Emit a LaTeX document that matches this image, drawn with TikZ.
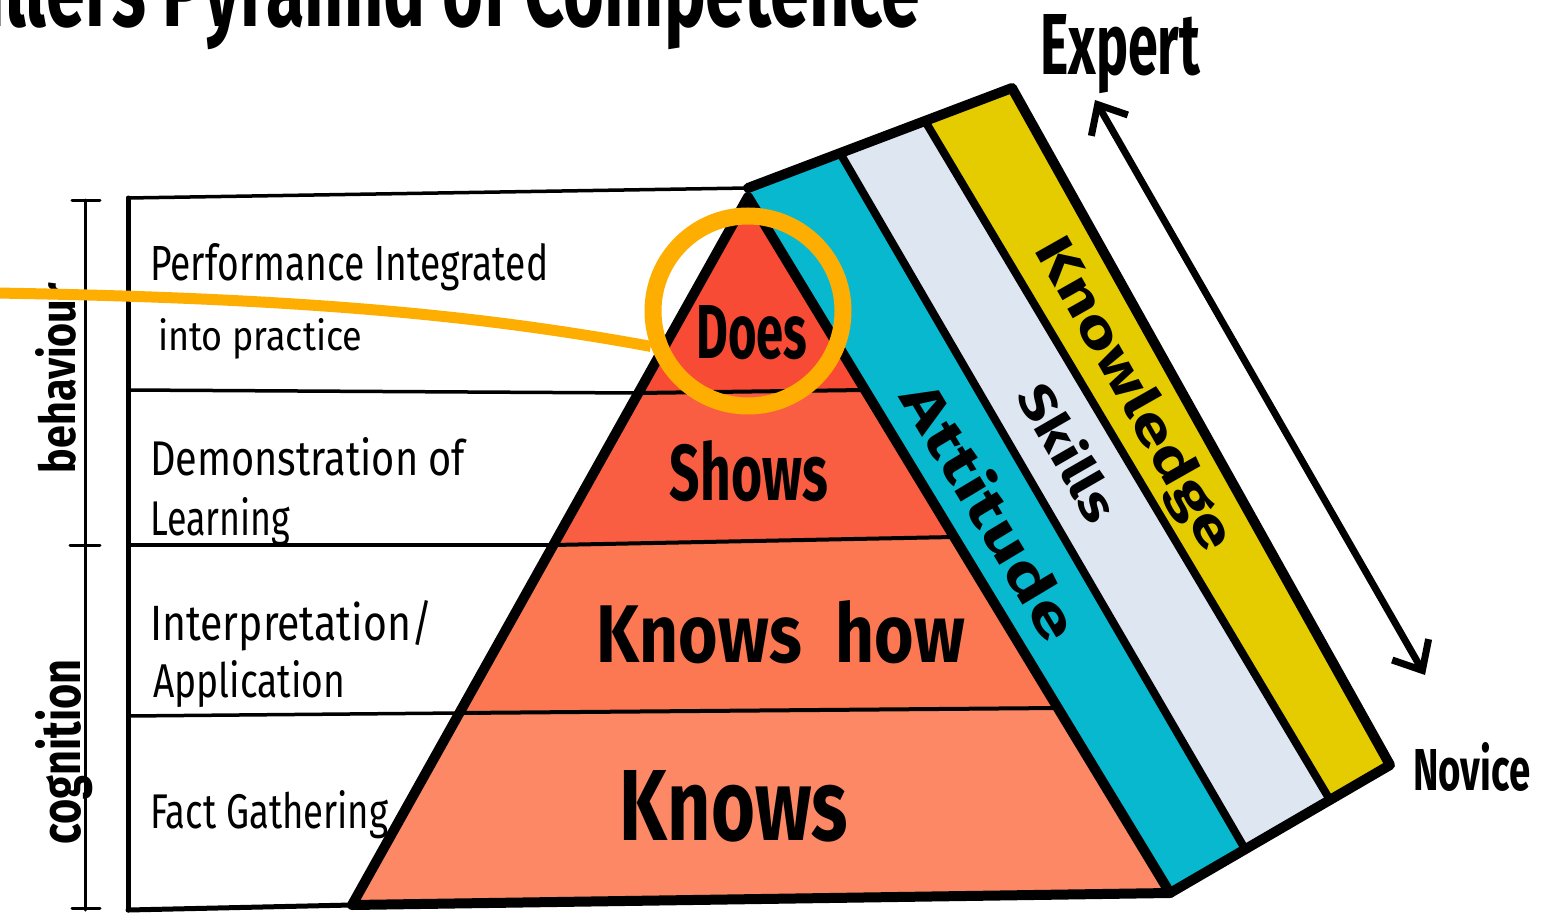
\documentclass[tikz,border=0pt]{standalone}
\usepackage{graphicx}
\usepackage{fontspec}
\setmainfont{Fira Sans}
\usetikzlibrary{arrows.meta}
\definecolor{doesc}{HTML}{F84B35}
\definecolor{showsc}{HTML}{FA5E42}
\definecolor{knowshowc}{HTML}{FB7852}
\definecolor{knowsc}{HTML}{FC8866}
\definecolor{cyanc}{HTML}{07B8CF}
\definecolor{skillc}{HTML}{DEE6F2}
\definecolor{yellowc}{HTML}{E4CC00}
\definecolor{ringc}{HTML}{FDAE00}
\newcommand{\fitbox}[3]{\resizebox{#1pt}{#2pt}{#3}}
\begin{document}
\begin{tikzpicture}[x=1pt,y=-1pt,line join=round,line cap=round,
  thinrule/.style={line width=3.5pt},
  boldrule/.style={line width=10pt},
  rowlbl/.style={inner sep=0pt,anchor=base west},
  pyrlbl/.style={inner sep=0pt,anchor=base,font=\bfseries},
  sidelbl/.style={inner sep=0pt,anchor=base,rotate=90},
  stripelbl/.style={inner sep=0pt,anchor=center,font=\bfseries}]
\useasboundingbox (0,0) rectangle (1564,915);
\fill[white] (0,0) rectangle (1564,915);

% title (cut off at the top)
\begin{scope}
\clip (0,0) rectangle (1564,915);
\node[inner sep=0pt,anchor=base west] (title) at (-70,27) {\fitbox{990}{85}{\bfseries Millers Pyramid of Competence}};
\end{scope}

% coordinates
\coordinate (apex) at (748,197);
\coordinate (dL) at (638,393); \coordinate (dR) at (865,390);
\coordinate (sL) at (553,545); \coordinate (sR) at (954,537);
\coordinate (kL) at (460,713); \coordinate (kR) at (1058,708);
\coordinate (bL) at (352,905); \coordinate (bR) at (1170,893);
\coordinate (eTL) at (748,188); \coordinate (c1T) at (840,153);
\coordinate (c2T) at (925,121); \coordinate (eTR) at (1012,88);
\coordinate (eBR) at (1390,765); \coordinate (c2B) at (1330,800);
\coordinate (c1B) at (1245,849);

% left table
\draw[line width=5pt] (128,198) -- (128,910);
\draw[thinrule] (128,198) -- (eTL);
\draw[thinrule] (128,390) -- (dL);
\draw[thinrule] (128,545) -- (sL);
\draw[thinrule] (128,716) -- (kL);
\draw[line width=5pt] (128,910) -- (bL);

% bracket
\draw[line width=3pt] (85,200) -- (85,910);
\draw[line width=3pt] (72,200) -- (100,200);
\draw[line width=3pt] (70,545) -- (100,545);
\draw[line width=3pt] (72,908) -- (100,908);

% extrusion stripes
\fill[cyanc] (eTL) -- (c1T) -- (c1B) -- (bR) -- (apex) -- cycle;
\fill[skillc] (c1T) -- (c2T) -- (c2B) -- (c1B) -- cycle;
\fill[yellowc] (c2T) -- (eTR) -- (eBR) -- (c2B) -- cycle;

% pyramid layers
\fill[doesc] (apex) -- (dR) -- (dL) -- cycle;
\fill[showsc] (dL) -- (dR) -- (sR) -- (sL) -- cycle;
\fill[knowshowc] (sL) -- (sR) -- (kR) -- (kL) -- cycle;
\fill[knowsc] (kL) -- (kR) -- (bR) -- (bL) -- cycle;
\draw[line width=4pt] (dL) -- (dR);
\draw[line width=4pt] (sL) -- (sR);
\draw[line width=4pt] (kL) -- (kR);

% outlines
\draw[line width=8pt] (c1T) -- (c1B);
\draw[line width=8pt] (c2T) -- (c2B);
\draw[boldrule] (eTL) -- (eTR) -- (eBR) -- (bR);
\draw[boldrule] (apex) -- (bR) -- (bL) -- cycle;

% row labels
\node[rowlbl] (r1a) at (150,280) {\fitbox{398}{37}{Performance Integrated}};
\node[rowlbl] (r1b) at (158,350) {\fitbox{204}{32}{into practice}};
\node[rowlbl] (r2a) at (150,475) {\fitbox{315}{38}{Demonstration of}};
\node[rowlbl] (r2b) at (150,535) {\fitbox{140}{38}{Learning}};
\node[rowlbl] (r3a) at (150,640) {\fitbox{282}{40}{Interpretation/}};
\node[rowlbl] (r3b) at (153,697) {\fitbox{192}{37}{Application}};
\node[rowlbl] (r4) at (150,828) {\fitbox{238}{38}{Fact Gathering}};

% side labels
\node[sidelbl] (behav) at (75,378) {\fitbox{190}{40}{\bfseries behaviour}};
\node[sidelbl] (cogn) at (80,752) {\fitbox{185}{45}{\bfseries cognition}};

% pyramid labels
\node[pyrlbl] (does) at (752,358) {\fitbox{111}{53}{Does}};
\node[pyrlbl] (shows) at (749,500) {\fitbox{158}{60}{Shows}};
\node[pyrlbl] (knowshow) at (781,662) {\fitbox{368}{62}{Knows\hspace{0.5em}how}};
\node[pyrlbl] (knows) at (734,840) {\fitbox{228}{70}{Knows}};

% stripe labels
\node[stripelbl,rotate=-59] (att) at (992,510) {\fitbox{290}{45}{Attitude}};
\node[stripelbl,rotate=-60] (skl) at (1070,452) {\fitbox{150}{40}{Skills}};
\node[stripelbl,rotate=-60.5] (knw) at (1132,395) {\fitbox{350}{40}{Knowledge}};

% expert / novice
\node[inner sep=0pt,anchor=base west] (expert) at (1040,75) {\fitbox{160}{60}{\bfseries Expert}};
\node[inner sep=0pt,anchor=base west] (novice) at (1413,790) {\fitbox{117}{48}{\bfseries Novice}};
\coordinate (arrTop) at (1095,100);
\coordinate (arrBot) at (1425,675);
\draw[line width=7pt,{Straight Barb[length=24pt,width=42pt,line width=7pt]}-{Straight Barb[length=24pt,width=42pt,line width=7pt]}] (arrTop) -- (arrBot);

% highlight ring and pointer
\node[circle,draw=ringc,line width=17pt,minimum size=190pt,inner sep=0pt] (ring) at (748,311) {};
\coordinate (lineStart) at (-5,293);
\draw[ringc,line width=11pt,line cap=butt] (lineStart) .. controls (300,298) and (480,315) .. (ring.200);
\end{tikzpicture}
\end{document}
